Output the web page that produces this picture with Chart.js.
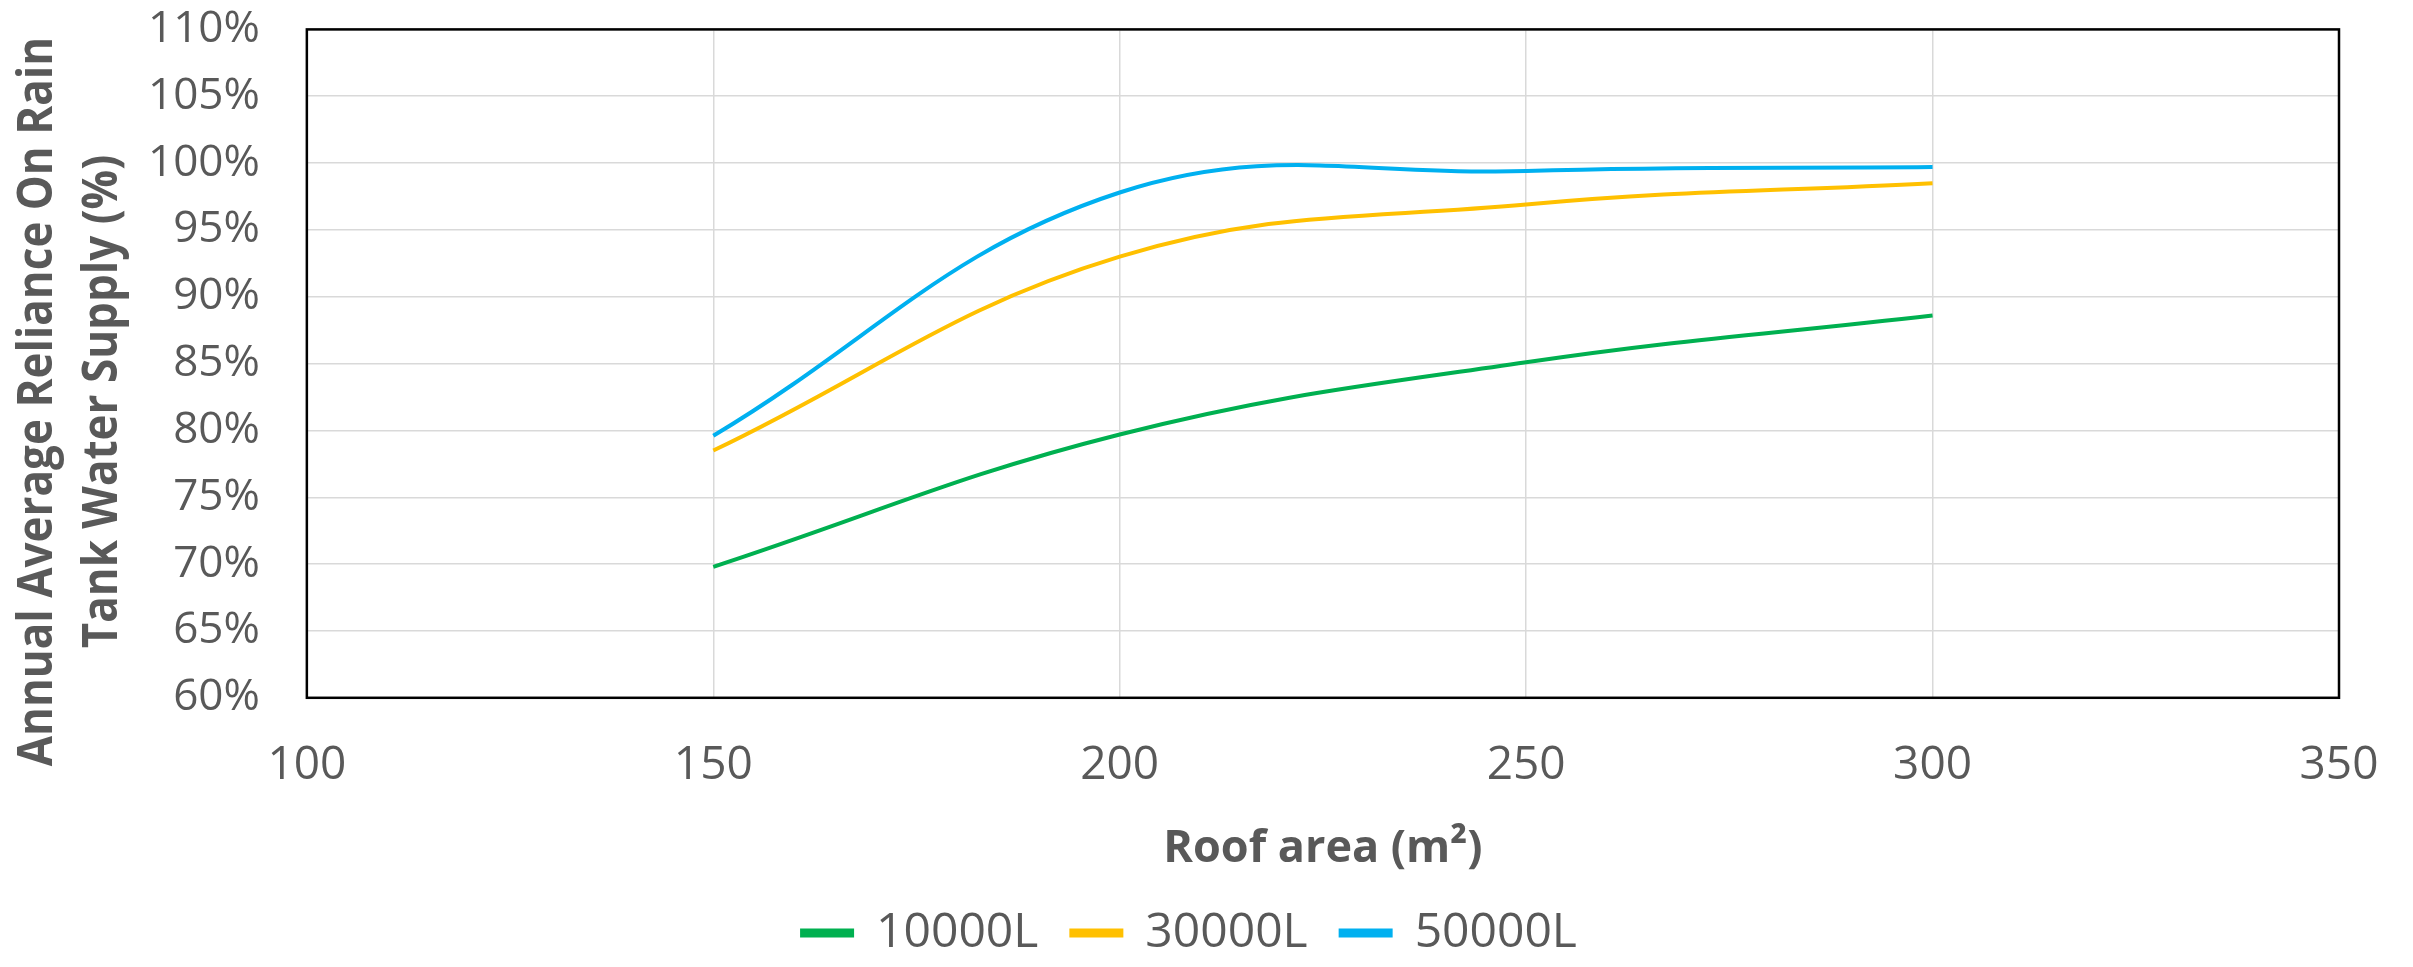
<!DOCTYPE html>
<html>
<head>
<meta charset="utf-8">
<script src="https://cdn.jsdelivr.net/npm/chart.js@4.4.0/dist/chart.umd.min.js"></script>
<style>
  html, body { margin: 0; padding: 0; background: #fff; }
  #wrap { width: 2413px; height: 967px; }
</style>
</head>
<body>
<div id="wrap"><canvas id="mychart"></canvas></div>
<script>
// values (percent)
const roofArea = [150, 200, 250, 300];
const tank10000 = [69.8, 79.7, 85.1, 88.6];
const tank30000 = [78.5, 93.0, 96.9, 98.5];
const tank50000 = [79.6, 97.8, 99.4, 99.7];
const seriesNames = ["10000L", "30000L", "50000L"];
const seriesColors = ["#00b050", "#ffc000", "#00b0f0"];
const yTitle = ["Annual Average Reliance On Rain", "Tank Water Supply (%)"];
const xTitle = "Roof area (m\u00b2)";

const grey = "#595959";

function pts(vals) {
  return roofArea.map((x, i) => ({ x: x, y: vals[i] }));
}

const allSeries = [tank10000, tank30000, tank50000];
const datasets = allSeries.map((vals, i) => ({
  label: seriesNames[i],
  data: pts(vals),
  borderColor: seriesColors[i],
  backgroundColor: seriesColors[i],
  borderWidth: 4,
  pointRadius: 0,
  fill: false,
  tension: 0.4,
}));

// black frame round the plot area
const frame = {
  id: "frame",
  beforeDatasetsDraw(chart) {
    const a = chart.chartArea;
    const ctx = chart.ctx;
    ctx.save();
    ctx.strokeStyle = "#000";
    ctx.lineWidth = 2.5;
    ctx.strokeRect(a.left, a.top, a.right - a.left, a.bottom - a.top);
    ctx.restore();
  },
};

// y title drawn by hand: two lines, a bit taller than the font, sitting
// lower than the plot centre like the excel original
const yTitlePlugin = {
  id: "yTitle",
  afterDraw(chart) {
    const a = chart.chartArea;
    const ctx = chart.ctx;
    const cy = (a.top + a.bottom) / 2 + 38;
    const baseX = [a.left - 255, a.left - 190];
    ctx.save();
    ctx.fillStyle = grey;
    ctx.font = "bold 44px 'Open Sans'";
    ctx.textAlign = "center";
    ctx.textBaseline = "alphabetic";
    yTitle.forEach((line, i) => {
      ctx.save();
      ctx.translate(baseX[i], cy);
      ctx.rotate(-Math.PI / 2);
      ctx.scale(1, 1.1);
      ctx.fillText(line, 0, 0);
      ctx.restore();
    });
    ctx.restore();
  },
};

// invisible tick marks push the labels away from the frame
const mychart = new Chart(document.getElementById("mychart"), {
  type: "line",
  data: { datasets: datasets },
  plugins: [frame, yTitlePlugin],
  options: {
    responsive: true,
    maintainAspectRatio: false,
    animation: false,
    layout: { padding: { left: 40, right: 74, top: 0, bottom: 0 } },
    scales: {
      x: {
        type: "linear",
        min: 100,
        max: 350,
        ticks: { stepSize: 50, font: { family: "'Open Sans'", size: 46 }, color: grey, padding: 4 },
        grid: { color: "#d9d9d9", lineWidth: 1.5, drawTicks: true, tickLength: 36, tickColor: "rgba(0,0,0,0)" },
        border: { display: false },
        title: { display: true, text: xTitle, font: { family: "'Open Sans'", size: 45, weight: "bold" }, color: grey, padding: { top: 25, bottom: 0 } },
      },
      y: {
        min: 60,
        max: 110,
        afterFit: (scale) => { scale.width += 105; },
        ticks: {
          stepSize: 5,
          font: { family: "'Open Sans'", size: 44 },
          color: grey,
          padding: 3,
          callback: (v) => v + "%",
        },
        grid: { color: "#d9d9d9", lineWidth: 1.5, drawTicks: true, tickLength: 44, tickColor: "rgba(0,0,0,0)" },
        border: { display: false },
      },
    },
    plugins: {
      legend: {
        position: "bottom",
        labels: {
          boxWidth: 50,
          boxHeight: 5,
          font: { family: "'Open Sans'", size: 48 },
          color: grey,
          padding: 33,
        },
      },
      tooltip: { enabled: false },
    },
  },
});
</script>
</body>
</html>
